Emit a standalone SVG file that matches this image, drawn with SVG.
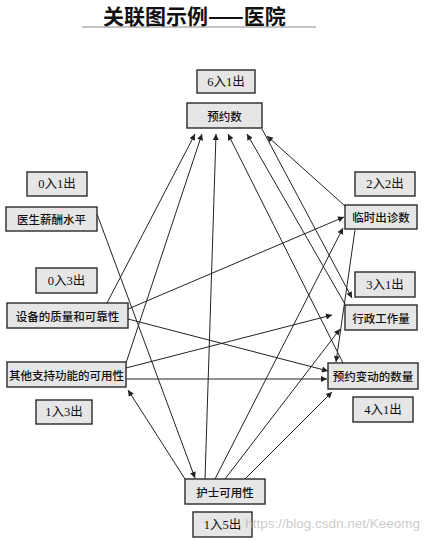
<svg xmlns="http://www.w3.org/2000/svg" width="429" height="541" viewBox="0 0 429 541">
<defs>
<marker id="ah" viewBox="0 0 10 10" refX="10" refY="5" markerWidth="8" markerHeight="6" markerUnits="userSpaceOnUse" orient="auto">
<path d="M0,0 L10,5 L0,10 z" fill="#222"/>
</marker>
<style>
.box{fill:#e6e6e6;stroke:#2a2a2a;stroke-width:1.4}
.lbl{font-family:"Noto Sans CJK SC","Liberation Serif",serif;font-size:11.5px;font-weight:500;fill:#111;text-anchor:middle;dominant-baseline:central}
.cnt{font-family:"Liberation Serif","Noto Sans CJK SC",serif;font-size:12.5px;fill:#111;text-anchor:middle;dominant-baseline:central}
.e{stroke:#222;stroke-width:1;fill:none;marker-end:url(#ah)}
</style>
</defs>
<rect width="429" height="541" fill="#fff"/>
<text x="103" y="24" font-family="'Noto Sans CJK SC',sans-serif" font-size="21" font-weight="700" fill="#111">关联图示例——医院</text>
<line x1="82" y1="27" x2="316" y2="27" stroke="#888" stroke-width="1"/>

<g id="connectors">
<path class="e" d="M97,214 L195,478"/>
<path class="e" d="M107,303 L195,134"/>
<path class="e" d="M128,309 L344,217"/>
<path class="e" d="M128,319 L328,371"/>
<path class="e" d="M126,363 L202,134"/>
<path class="e" d="M126,368 L332,315"/>
<path class="e" d="M126,379 L327,379"/>
<path class="e" d="M185,479 L128,390"/>
<path class="e" d="M205,479 L216,134"/>
<path class="e" d="M215,479 L343,228"/>
<path class="e" d="M225,479 L340,329"/>
<path class="e" d="M245,479 L332,392"/>
<path class="e" d="M345,206 L267,136"/>
<path class="e" d="M355,230 L336,362"/>
<path class="e" d="M345,304 L247,134"/>
<path class="e" d="M262,129 L352,298"/>
<path class="e" d="M343,363 L228,134"/>
</g>

<g id="n-yys-count"><rect class="box" x="197" y="70" width="58" height="23"/><text class="cnt" x="226" y="81.5">6入1出</text></g>
<g id="n-yys"><rect class="box" x="187" y="103" width="75" height="25"/><text class="lbl" x="224.5" y="115.5">预约数</text></g>
<g id="n-ysxc-count"><rect class="box" x="27" y="172" width="60" height="24"/><text class="cnt" x="57" y="184">0入1出</text></g>
<g id="n-ysxc"><rect class="box" x="6" y="207" width="91" height="24"/><text class="lbl" x="51.5" y="219">医生薪酬水平</text></g>
<g id="n-sb-count"><rect class="box" x="36" y="268" width="61" height="25"/><text class="cnt" x="66.5" y="280.5">0入3出</text></g>
<g id="n-sb"><rect class="box" x="7" y="303" width="121" height="25"/><text class="lbl" x="67.5" y="315.5">设备的质量和可靠性</text></g>
<g id="n-qt"><rect class="box" x="7" y="362" width="119" height="25"/><text class="lbl" x="66.5" y="374.5">其他支持功能的可用性</text></g>
<g id="n-qt-count"><rect class="box" x="36" y="400" width="56" height="24"/><text class="cnt" x="64" y="412">1入3出</text></g>
<g id="n-lszs-count"><rect class="box" x="355" y="172" width="60" height="24"/><text class="cnt" x="385" y="184">2入2出</text></g>
<g id="n-lszs"><rect class="box" x="345" y="205" width="72" height="24"/><text class="lbl" x="381" y="217">临时出诊数</text></g>
<g id="n-xz-count"><rect class="box" x="355" y="272" width="60" height="25"/><text class="cnt" x="385" y="284.5">3入1出</text></g>
<g id="n-xz"><rect class="box" x="345" y="305" width="72" height="25"/><text class="lbl" x="381" y="317.5">行政工作量</text></g>
<g id="n-yybd"><rect class="box" x="328" y="363" width="90" height="26"/><text class="lbl" x="373" y="376">预约变动的数量</text></g>
<g id="n-yybd-count"><rect class="box" x="353" y="397" width="60" height="25"/><text class="cnt" x="383" y="409.5">4入1出</text></g>
<g id="n-hs"><rect class="box" x="185" y="479" width="80" height="25"/><text class="lbl" x="225" y="491.5">护士可用性</text></g>
<g id="n-hs-count"><rect class="box" x="193" y="512" width="59" height="25"/><text class="cnt" x="222.5" y="524.5">1入5出</text></g>

<text x="420" y="528" text-anchor="end" font-family="'Liberation Sans',sans-serif" font-size="13.5" fill="#b8b8b8" fill-opacity="0.75">https://blog.csdn.net/Keeomg</text>
</svg>
